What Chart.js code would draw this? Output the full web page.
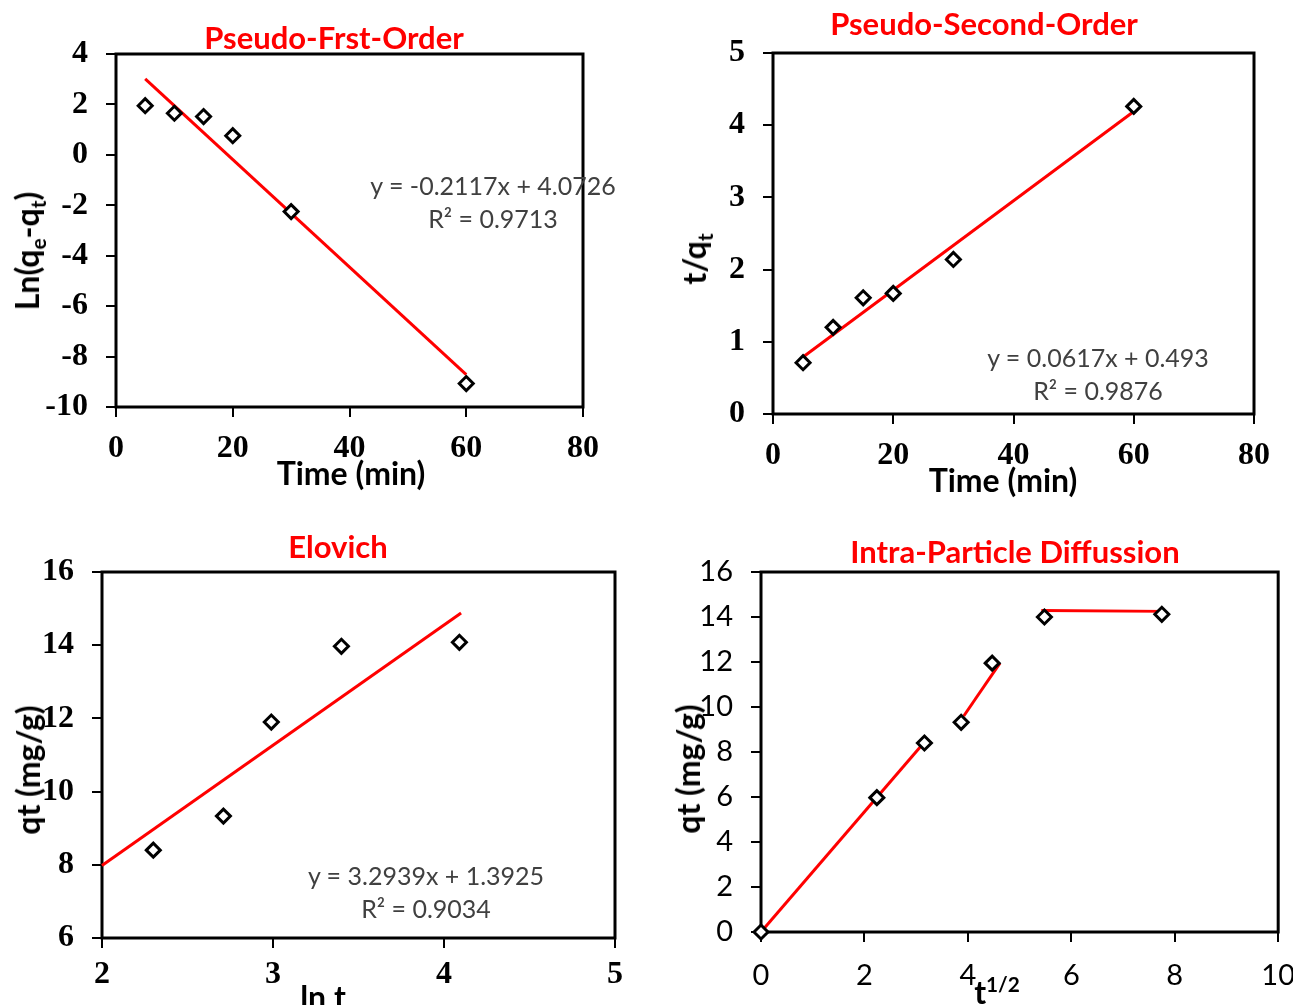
<!DOCTYPE html>
<html>
<head>
<meta charset="utf-8">
<script src="https://cdn.jsdelivr.net/npm/chart.js@4.4.0/dist/chart.umd.min.js"></script>
<style>
  body { margin: 0; background: #fff; }
  #wrap { position: relative; width: 1293px; height: 1005px; overflow: hidden; background: #fff; }
  canvas { position: absolute; }
  .lbl { position: absolute; white-space: nowrap; transform: translate(-50%, -50%); line-height: 1; }
  .ttl { font-family: Lato, sans-serif; font-weight: bold; color: #ff0000; font-size: 31px; }
  .ax { font-family: Lato, sans-serif; font-weight: bold; color: #000; font-size: 32px; }
  .rot { transform: translate(-50%, -50%) rotate(-90deg); }
  .eq { font-family: Lato, sans-serif; color: #404040; font-size: 25px; }
  sub, sup { font-size: 65%; line-height: 0; }
</style>
</head>
<body>
<div id="wrap">
  <canvas id="pfo" width="646" height="502" style="left:0px;top:0px"></canvas>
  <canvas id="pso" width="647" height="502" style="left:646px;top:0px"></canvas>
  <canvas id="elo" width="646" height="503" style="left:0px;top:502px"></canvas>
  <canvas id="ipd" width="665" height="503" style="left:646px;top:502px"></canvas>

  <div class="lbl ttl" style="left:334px;top:37px">Pseudo-Frst-Order</div>
  <div class="lbl ttl" style="left:984px;top:23px">Pseudo-Second-Order</div>
  <div class="lbl ttl" style="left:338px;top:546px">Elovich</div>
  <div class="lbl ttl" style="left:1015px;top:551px">Intra-Particle Diffussion</div>

  <div class="lbl ax" style="left:351px;top:473px">Time (min)</div>
  <div class="lbl ax" style="left:1003px;top:480px">Time (min)</div>
  <div class="lbl ax" style="left:323px;top:997px">ln t</div>
  <div class="lbl ax" style="left:997px;top:992px">t<sup>1/2</sup></div>

  <div class="lbl ax rot" style="left:27px;top:251px">Ln(q<sub>e</sub>-q<sub>t</sub>)</div>
  <div class="lbl ax rot" style="left:694px;top:259px">t/q<sub>t</sub></div>
  <div class="lbl ax rot" style="left:28px;top:770px">qt (mg/g)</div>
  <div class="lbl ax rot" style="left:688px;top:769px">qt (mg/g)</div>

  <div class="lbl eq" style="left:493px;top:185px">y = -0.2117x + 4.0726</div>
  <div class="lbl eq" style="left:493px;top:218px">R² = 0.9713</div>
  <div class="lbl eq" style="left:1098px;top:357px">y = 0.0617x + 0.493</div>
  <div class="lbl eq" style="left:1098px;top:390px">R² = 0.9876</div>
  <div class="lbl eq" style="left:426px;top:875px">y = 3.2939x + 1.3925</div>
  <div class="lbl eq" style="left:426px;top:908px">R² = 0.9034</div>
</div>
<script>
// pseudo first order
var pfoTime = [5, 10, 15, 20, 30, 60];
var pfoLnQ = [1.95, 1.65, 1.52, 0.76, -2.25, -9.07];
var pfoFitX = [5, 60];
var pfoFitY = [3.01, -8.72];
var pfoXTicks = [0, 20, 40, 60, 80];
var pfoYTicks = [-10, -8, -6, -4, -2, 0, 2, 4];

// pseudo second order
var psoTime = [5, 10, 15, 20, 30, 60];
var psoTQ = [0.71, 1.2, 1.61, 1.67, 2.14, 4.26];
var psoFitX = [5, 60];
var psoFitY = [0.79, 4.19];
var psoXTicks = [0, 20, 40, 60, 80];
var psoYTicks = [0, 1, 2, 3, 4, 5];

// elovich
var eloLnT = [2.30, 2.71, 2.99, 3.40, 4.09];
var eloQt = [8.40, 9.33, 11.9, 13.97, 14.08];
var eloFitX = [2, 4.1];
var eloFitY = [7.98, 14.88];
var eloXTicks = [2, 3, 4, 5];
var eloYTicks = [6, 8, 10, 12, 14, 16];

// intra-particle diffusion
var ipdSqrtT = [0, 2.24, 3.16, 3.87, 4.47, 5.48, 7.75];
var ipdQt = [0, 5.97, 8.4, 9.32, 11.95, 14.0, 14.12];
var ipdSeg1X = [0, 3.17], ipdSeg1Y = [0, 8.47];
var ipdSeg2X = [3.92, 4.62], ipdSeg2Y = [9.6, 11.95];
var ipdSeg3X = [5.42, 7.83], ipdSeg3Y = [14.29, 14.25];
var ipdXTicks = [0, 2, 4, 6, 8, 10];
var ipdYTicks = [0, 2, 4, 6, 8, 10, 12, 14, 16];

var serifFont = { family: 'Liberation Serif', size: 32, weight: 'bold' };
var sansFont = { family: 'Lato', size: 29, weight: 'normal' };

var frame = {
    id: 'frame',
    beforeDatasetsDraw: function (chart) {
        var a = chart.chartArea, c = chart.ctx;
        c.save();
        c.lineWidth = 3;
        c.strokeStyle = '#000';
        c.strokeRect(a.left, a.top, a.right - a.left, a.bottom - a.top);
        c.restore();
    }
};

function pts(xs, ys) {
    var out = [];
    for (var i = 0; i < xs.length; i++) out.push({ x: xs[i], y: ys[i] });
    return out;
}

function markers(xs, ys) {
    return {
        data: pts(xs, ys),
        showLine: false,
        pointStyle: 'rectRot',
        pointRadius: 7,
        pointBackgroundColor: '#fff',
        pointBorderColor: '#000',
        pointBorderWidth: 3,
        clip: false
    };
}

function fitLine(xs, ys) {
    return {
        data: pts(xs, ys),
        showLine: true,
        borderColor: '#ff0000',
        borderWidth: 3,
        pointRadius: 0,
        clip: false
    };
}

function axis(ticks, font, size, isY, pad) {
    return {
        type: 'linear',
        min: ticks[0],
        max: ticks[ticks.length - 1],
        afterFit: function (s) { if (isY) s.width = size; else s.height = size; },
        ticks: {
            stepSize: ticks[1] - ticks[0],
            font: font,
            color: '#000',
            padding: pad,
            maxRotation: 0
        },
        grid: {
            drawOnChartArea: false,
            drawTicks: true,
            tickLength: 10,
            tickColor: '#000',
            lineWidth: 2
        },
        border: { display: false }
    };
}

function makeChart(id, datasets, xTicks, yTicks, font, pad, yWidth, xHeight, xPad) {
    return new Chart(document.getElementById(id).getContext('2d'), {
        type: 'scatter',
        data: { datasets: datasets },
        options: {
            responsive: false,
            animation: false,
            layout: { padding: pad },
            plugins: { legend: { display: false }, tooltip: { enabled: false } },
            scales: {
                x: axis(xTicks, font, xHeight, false, xPad),
                y: axis(yTicks, font, yWidth, true, 18)
            }
        },
        plugins: [frame]
    });
}

makeChart('pfo', [markers(pfoTime, pfoLnQ), fitLine(pfoFitX, pfoFitY)],
    pfoXTicks, pfoYTicks, serifFont, { left: 0, top: 54, right: 63, bottom: 0 }, 116, 95, 13);

makeChart('pso', [markers(psoTime, psoTQ), fitLine(psoFitX, psoFitY)],
    psoXTicks, psoYTicks, serifFont, { left: 0, top: 53, right: 39, bottom: 0 }, 127, 88, 13);

makeChart('elo', [markers(eloLnT, eloQt), fitLine(eloFitX, eloFitY)],
    eloXTicks, eloYTicks, serifFont, { left: 0, top: 70, right: 31, bottom: 0 }, 102, 67, 8);

makeChart('ipd', [markers(ipdSqrtT, ipdQt), fitLine(ipdSeg1X, ipdSeg1Y),
    fitLine(ipdSeg2X, ipdSeg2Y), fitLine(ipdSeg3X, ipdSeg3Y)],
    ipdXTicks, ipdYTicks, sansFont, { left: 0, top: 70, right: 31, bottom: 0 }, 115, 73, 16);
</script>
</body>
</html>
